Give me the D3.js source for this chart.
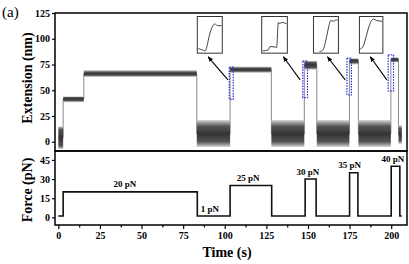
<!DOCTYPE html>
<html>
<head>
<meta charset="utf-8">
<script src="https://cdn.jsdelivr.net/npm/d3@7"></script>
<style>
  body { margin: 0; background: #fff; }
  svg { display: block; }
  text { font-family: "Liberation Serif", "Times New Roman", serif; }
  .tick-label { font-size: 10px; font-weight: bold; }
  .title { font-size: 14px; font-weight: bold; }
</style>
</head>
<body>
<svg id="chart" width="409" height="264"></svg>
<script>
// ---- data ----
// extension trace, one entry per state: start/end time (s), core noise band and outer noise band (nm)
var extStart = [0, 2.9, 15.3, 83.2, 103.2, 128.0, 147.8, 155.3, 174.9, 180.3, 199.8, 204.4];
var extEnd = [2.9, 15.3, 83.2, 103.2, 128.0, 147.8, 155.3, 174.9, 180.3, 199.8, 204.4, 206.4];
var extCoreLo = [-4, 40, 64.5, 0, 68.5, 0, 72, 0, 77, 0, 78.5, 1];
var extCoreHi = [12, 43, 67.5, 15, 71.5, 15, 77, 15, 80, 15, 81, 13];
var extOuterLo = [-7, 38.5, 63, -5, 67, -5, 70, -5, 75, -5, 77, -2];
var extOuterHi = [15, 44, 69.5, 21, 73, 21, 78.5, 21, 81, 21, 82, 16];

// force protocol (pN), step after each time
var forceTimes = [0, 2.9, 83.5, 103.2, 128.2, 148.3, 154.9, 175, 180, 200, 205.2, 206.4];
var forceLevels = [1, 20, 1, 25, 1, 30, 1, 35, 1, 40, 1, 1];

var forceLabels = ["20 pN", "1 pN", "25 pN", "30 pN", "35 pN", "40 pN"];
var forceLabelTimes = [40, 91, 114, 150, 175, 201];
var forceLabelLevels = [20, 1, 25, 30, 35, 40];

var xTicks = [0, 25, 50, 75, 100, 125, 150, 175, 200];
var extTicks = [0, 25, 50, 75, 100, 125];
var forceTicks = [0, 15, 30, 45];

// zoomed rising edges shown in the insets (fraction of inset width / height from bottom)
var inset1 = [[0.04, 0.12], [0.21, 0.09], [0.31, 0.06], [0.51, 0.55], [0.64, 0.77], [0.71, 0.8], [0.8, 0.75], [0.97, 0.75]];
var inset2 = [[0.04, 0.06], [0.26, 0.09], [0.32, 0.18], [0.52, 0.17], [0.58, 0.15], [0.65, 0.84], [0.68, 0.8], [0.8, 0.84], [0.97, 0.8]];
var inset3 = [[0.24, 0.04], [0.33, 0.06], [0.4, 0.11], [0.53, 0.46], [0.63, 0.78], [0.69, 0.89], [0.8, 0.87], [0.91, 0.91], [0.97, 0.89]];
var inset4 = [[0.03, 0.11], [0.17, 0.2], [0.29, 0.46], [0.39, 0.69], [0.5, 0.87], [0.6, 0.93], [0.74, 0.89], [0.96, 0.87]];

// ---- layout ----
var svg = d3.select("#chart");
var dims = { left: 55, right: 407, top: 13, mid: 151, bottom: 225 };

var xScale = d3.scaleLinear().domain([-2, 209.5]).range([dims.left, dims.right]);
var yExt = d3.scaleLinear().domain([-9, 125]).range([dims.mid, dims.top]);
var yForce = d3.scaleLinear().domain([-6, 52]).range([dims.bottom, dims.mid]);

// annotation placement: highlighted edge (time/nm), inset box (time/nm), arrow from/to (time/nm)
var annotations = [
  { rect: [102.7, 105.1, 41.2, 72.4], box: [83.5, 98.5, 86, 121.6], from: [101.9, 60], to: [90, 82.5], curve: inset1 },
  { rect: [146.9, 149.7, 42.8, 78.5], box: [122.2, 137.6, 86, 121.6], from: [145.3, 60], to: [135.2, 82.5], curve: inset2 },
  { rect: [173.4, 176.1, 45.4, 81.1], box: [153.3, 168.3, 86, 121.6], from: [172.4, 60], to: [161.7, 82.5], curve: inset3 },
  { rect: [198.2, 201.4, 49.3, 84.3], box: [180.9, 195, 86, 121.6], from: [197.4, 60], to: [187.4, 82.5], curve: inset4 }
];

var defs = svg.append("defs");
defs.append("marker")
  .attr("id", "arrow")
  .attr("viewBox", "0 0 10 10")
  .attr("refX", 9).attr("refY", 5)
  .attr("markerWidth", 5).attr("markerHeight", 5)
  .attr("orient", "auto")
  .append("path").attr("d", "M0,1 L10,5 L0,9 Z").attr("fill", "#000");

// ---- extension panel ----
var ext = extStart.map((s, i) => ({
  t0: s, t1: extEnd[i],
  coreLo: extCoreLo[i], coreHi: extCoreHi[i],
  outLo: extOuterLo[i], outHi: extOuterHi[i]
}));

// one vertical gradient per state: light edges fading into the dark core
ext.forEach((d, i) => {
  var span = d.outHi - d.outLo;
  var a = (d.outHi - d.coreHi) / span;
  var b = (d.outHi - d.coreLo) / span;
  var g = defs.append("linearGradient")
    .attr("id", "noise" + i)
    .attr("x1", 0).attr("y1", 0).attr("x2", 0).attr("y2", 1);
  g.append("stop").attr("offset", 0).attr("stop-color", "#d4d4d4");
  g.append("stop").attr("offset", a).attr("stop-color", "#555");
  g.append("stop").attr("offset", (a + b) / 2).attr("stop-color", "#333");
  g.append("stop").attr("offset", b).attr("stop-color", "#555");
  g.append("stop").attr("offset", 1).attr("stop-color", "#cfcfcf");
});

// gray line joining the states
var stepPts = [];
ext.forEach((d) => {
  var mid = (d.coreLo + d.coreHi) / 2;
  stepPts.push([d.t0, mid]);
  stepPts.push([d.t1, mid]);
});
svg.append("path")
  .attr("d", d3.line().x((d) => xScale(d[0])).y((d) => yExt(d[1]))(stepPts))
  .attr("fill", "none")
  .attr("stroke", "#8a8a8a")
  .attr("stroke-width", 1);

svg.append("g").selectAll("rect")
  .data(ext).enter().append("rect")
  .attr("x", (d) => xScale(d.t0))
  .attr("width", (d) => xScale(d.t1) - xScale(d.t0))
  .attr("y", (d) => yExt(d.outHi))
  .attr("height", (d) => yExt(d.outLo) - yExt(d.outHi))
  .attr("fill", (d, i) => "url(#noise" + i + ")");

// annotations: dashed edge boxes, arrows, insets
annotations.forEach((a) => {
  svg.append("rect")
    .attr("x", xScale(a.rect[0]))
    .attr("y", yExt(a.rect[3]))
    .attr("width", xScale(a.rect[1]) - xScale(a.rect[0]))
    .attr("height", yExt(a.rect[2]) - yExt(a.rect[3]))
    .attr("fill", "none")
    .attr("stroke", "#2b2bd8")
    .attr("stroke-width", 1.2)
    .attr("stroke-dasharray", "1.5,1.2");

  svg.append("line")
    .attr("x1", xScale(a.from[0])).attr("y1", yExt(a.from[1]))
    .attr("x2", xScale(a.to[0])).attr("y2", yExt(a.to[1]))
    .attr("stroke", "#000")
    .attr("stroke-width", 1.1)
    .attr("marker-end", "url(#arrow)");

  var bx0 = xScale(a.box[0]), bx1 = xScale(a.box[1]);
  var by0 = yExt(a.box[3]), by1 = yExt(a.box[2]);
  svg.append("rect")
    .attr("x", bx0).attr("y", by0)
    .attr("width", bx1 - bx0).attr("height", by1 - by0)
    .attr("fill", "#fff")
    .attr("stroke", "#333")
    .attr("stroke-width", 1);

  var ix = d3.scaleLinear().domain([0, 1]).range([bx0, bx1]);
  var iy = d3.scaleLinear().domain([0, 1]).range([by1, by0]);
  svg.append("path")
    .attr("d", d3.line().x((d) => ix(d[0])).y((d) => iy(d[1])).curve(d3.curveMonotoneX)(a.curve))
    .attr("fill", "none")
    .attr("stroke", "#444")
    .attr("stroke-width", 1);
});

// ---- force panel ----
var force = forceTimes.map((t, i) => ({ t: t, f: forceLevels[i] }));
svg.append("path")
  .attr("d", d3.line().x((d) => xScale(d.t)).y((d) => yForce(d.f)).curve(d3.curveStepAfter)(force))
  .attr("fill", "none")
  .attr("stroke", "#111")
  .attr("stroke-width", 1.6);

svg.append("g").selectAll("text")
  .data(forceLabels).enter().append("text")
  .text((d) => d)
  .attr("x", (d, i) => xScale(forceLabelTimes[i]))
  .attr("y", (d, i) => yForce(forceLabelLevels[i]) - 4.5)
  .attr("text-anchor", "middle")
  .attr("font-size", "9px")
  .attr("font-weight", "bold");

// ---- frames & axes ----
svg.append("rect")
  .attr("x", dims.left).attr("y", dims.top)
  .attr("width", dims.right - dims.left).attr("height", dims.mid - dims.top)
  .attr("fill", "none").attr("stroke", "#000").attr("stroke-width", 1.5);
svg.append("rect")
  .attr("x", dims.left).attr("y", dims.mid)
  .attr("width", dims.right - dims.left).attr("height", dims.bottom - dims.mid)
  .attr("fill", "none").attr("stroke", "#000").attr("stroke-width", 1.5);

function styleAxis(g) {
  g.select(".domain").remove();
  g.selectAll(".tick line").attr("stroke", "#000").attr("stroke-width", 1.2);
  g.selectAll(".tick text").attr("class", "tick-label").attr("fill", "#000");
}

// minor ticks
var xMinor = xTicks.slice(0, -1).map((d) => d + 12.5);
svg.append("g")
  .attr("transform", "translate(0," + dims.bottom + ")")
  .call(d3.axisBottom(xScale).tickValues(xMinor).tickSize(2.5).tickFormat(""))
  .call(styleAxis);
svg.append("g")
  .attr("transform", "translate(0," + dims.bottom + ")")
  .call(d3.axisBottom(xScale).tickValues(xTicks).tickSize(4).tickPadding(3))
  .call(styleAxis);

svg.append("g")
  .attr("transform", "translate(" + dims.left + ",0)")
  .call(d3.axisLeft(yExt).tickValues(extTicks).tickSize(3).tickPadding(2))
  .call(styleAxis);
svg.append("g")
  .attr("transform", "translate(" + dims.left + ",0)")
  .call(d3.axisLeft(yForce).tickValues(forceTicks).tickSize(3).tickPadding(2))
  .call(styleAxis);

// titles
svg.append("text")
  .attr("class", "title")
  .attr("transform", "translate(32,78) rotate(-90)")
  .attr("text-anchor", "middle")
  .text("Extension (nm)");
svg.append("text")
  .attr("class", "title")
  .attr("transform", "translate(32,190) rotate(-90)")
  .attr("text-anchor", "middle")
  .text("Force (pN)");
svg.append("text")
  .attr("class", "title")
  .attr("x", 227).attr("y", 257)
  .attr("text-anchor", "middle")
  .text("Time (s)");
svg.append("text")
  .attr("x", 2).attr("y", 17)
  .attr("font-size", "15px")
  .text("(a)");
</script>
</body>
</html>
